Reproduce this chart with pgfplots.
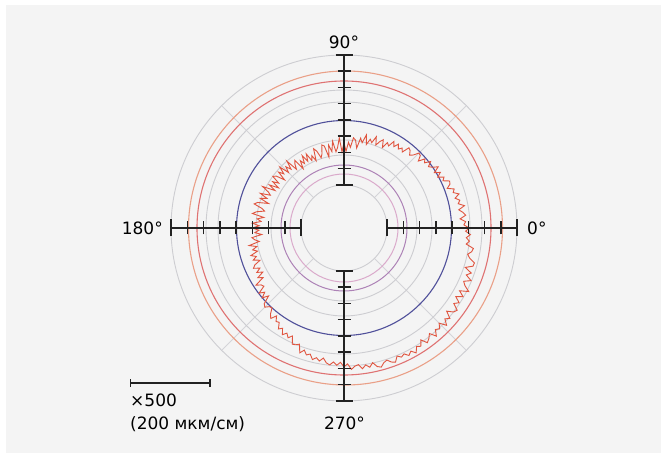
\documentclass[border=0pt]{standalone}
\usepackage{pgfplots}
\pgfplotsset{compat=1.18}
\usepackage{fontspec}
\setmainfont{DejaVu Sans}
\newcommand\lbl{\fontsize{17}{20}\selectfont}
\definecolor{bg}{HTML}{F4F4F4}
\definecolor{gridc}{HTML}{CDCDD1}
\definecolor{radc}{HTML}{D4D4D8}
\definecolor{redc}{HTML}{DF7272}
\definecolor{orc}{HTML}{EAA088}
\definecolor{bluec}{HTML}{50509A}
\definecolor{purc}{HTML}{AD82B6}
\definecolor{pinkc}{HTML}{DAAACB}
\definecolor{tracec}{HTML}{E0553F}
\definecolor{axc}{HTML}{222222}
\begin{document}
\begin{tikzpicture}
\begin{axis}[
  scale only axis, width=667pt, height=458pt,
  xmin=-344, xmax=323, ymin=-230, ymax=228,
  hide axis, clip=false,
]
\fill[white] (axis cs:-344,-230) rectangle (axis cs:323,228);
\fill[bg] (axis cs:-338,-225) rectangle (axis cs:317,223);
% radial grid lines
\draw[radc, line width=0.8pt] (axis cs:30.4,30.4) -- (axis cs:122.3,122.3);
\draw[radc, line width=0.8pt] (axis cs:-30.4,30.4) -- (axis cs:-122.3,122.3);
\draw[radc, line width=0.8pt] (axis cs:-30.4,-30.4) -- (axis cs:-122.3,-122.3);
\draw[radc, line width=0.8pt] (axis cs:30.4,-30.4) -- (axis cs:122.3,-122.3);
% gray circles
\pgfplotsinvokeforeach{43,73,88,126,138,173}{
  \draw[gridc, line width=0.9pt] (axis cs:0,0) circle[radius=#1];
}
\draw[pinkc, line width=1pt] (axis cs:0,0) circle[radius=54];
\draw[purc, line width=1pt] (axis cs:0,0) circle[radius=63];
\draw[bluec, line width=1.1pt] (axis cs:0,0) circle[radius=107.5];
\draw[redc, line width=1.1pt] (axis cs:0,0) circle[radius=147];
\draw[orc, line width=1.1pt] (axis cs:1.5,0) circle[radius=157];
% roundness trace (angle in degrees, radius)
\addplot[tracec, line width=0.9pt, no marks, data cs=polar] coordinates {
(0,125.2) (1.5,119.9) (3,121.8) (4.5,116.5) (6,122.4) (7.5,119.9) (9,116.2) (10.5,122.5) (12,116.8) (13.5,119.1)
(15,115) (16.5,119.9) (18,114.8) (19.5,116.9) (21,110.6) (22.5,114.7) (24,115.6) (25.5,109.7) (27,112.2) (28.5,106.7)
(30,111.2) (31.5,106) (33,112.4) (34.5,107.2) (36,104.4) (37.5,109.2) (39,103.6) (40.5,106.4) (42,100) (43.5,105.2)
(45,106) (46.5,100.6) (48,98) (49.5,101.8) (51,103.2) (52.5,95.8) (54,98.8) (55.5,95.8) (57,100) (58.5,95.4)
(60,100) (61.5,93.4) (63,95.8) (64.5,89.2) (66,96.6) (67.5,93.5) (69,88.9) (70.5,96.8) (72,89.7) (73.5,92.6)
(75,86.5) (76.5,95.6) (78,87.2) (79.5,91.4) (81,80.9) (82.5,88.6) (84,90.7) (85.5,80.9) (87,85.8) (88.5,76.7)
(90,85.4) (91.5,76.2) (93,90.2) (94.5,81) (96,76.6) (97.5,87.4) (99,77.4) (100.5,84.2) (102,72.6) (103.5,84.2)
(105,86) (106.5,77.5) (108,73.9) (109.5,81.5) (111,84.9) (112.5,72.9) (114,79.1) (115.5,74.8) (117,83.1) (118.5,76)
(120,83.6) (121.5,75.6) (123,80.2) (124.5,72.2) (126,83.8) (127.5,80.7) (129,75.5) (130.5,87.8) (132,79.1) (133.5,84.4)
(135,78.5) (136.5,88.5) (138,81) (139.5,86.1) (141,76.5) (142.5,85.1) (144,88.1) (145.5,79.2) (147,85) (148.5,76.8)
(150,86.1) (151.5,78.6) (153,91.4) (154.5,83.9) (156,80.6) (157.5,90.6) (159,82.4) (160.5,88.9) (162,79.3) (163.5,90)
(165,93) (166.5,84.7) (168,81.3) (169.5,89.1) (171,92.7) (172.5,80.9) (174,87.3) (175.5,83.2) (177,91.7) (178.5,84.8)
(180,91.8) (181.5,85.1) (183,89.2) (184.5,82.5) (186,92.6) (187.5,90.1) (189,85.8) (190.5,96.5) (192,89.2) (193.5,93.9)
(195,89.5) (196.5,97.1) (198,92.2) (199.5,96.3) (201,89.9) (202.5,96.5) (204,99.1) (205.5,93.2) (207,97.8) (208.5,92.4)
(210,99.5) (211.5,95) (213,105) (214.5,100.5) (216,99) (217.5,107) (219,102) (220.5,107.5) (222,101.5) (223.5,110)
(225,112) (226.5,108.4) (228,107.6) (229.5,113.2) (231,116.4) (232.5,110.8) (234,115.6) (235.5,114.4) (237,120.4) (238.5,117.6)
(240,123.2) (241.5,119.6) (243,123.2) (244.5,119.6) (246,127.2) (247.5,126.4) (249,124.4) (250.5,132.4) (252,128.4) (253.5,132.4)
(255,130.5) (256.5,135.3) (258,132.6) (259.5,135.3) (261,131.7) (262.5,135.9) (264,137.7) (265.5,134.4) (267,137.4) (268.5,134.4)
(270,138.9) (271.5,135.9) (273,141.6) (274.5,138.6) (276,137.4) (277.5,141.9) (279,138.6) (280.5,141.6) (282,137.7) (283.5,142.5)
(285,144) (286.5,140.4) (288,138.9) (289.5,142.2) (291,143.7) (292.5,138.6) (294,141.3) (295.5,139.5) (297,143.1) (298.5,140.1)
(300,144.2) (301.5,139) (303,141) (304.5,135.8) (306,141.8) (307.5,139.4) (309,135.8) (310.5,142.2) (312,136.6) (313.5,139)
(315,134.5) (316.5,141.4) (318,135.8) (319.5,139.2) (321,132.1) (322.5,138) (324,139.9) (325.5,133.3) (327,137.2) (328.5,131.1)
(330,137.5) (331.5,131.5) (333,140) (334.5,134) (336,131) (337.5,137.5) (339,131) (340.5,135) (342,127.5) (343.5,134.5)
(345,135) (346.5,129.3) (348,126.4) (349.5,129.9) (351,131) (352.5,123.3) (354,126) (355.5,122.7) (357,126.6) (358.5,121.7)
(360,125.2)
};
% axis cross
\draw[axc, line width=1.5pt] (axis cs:43,0) -- (axis cs:173,0);
\draw[axc, line width=1.5pt] (axis cs:-43,0) -- (axis cs:-173,0);
\draw[axc, line width=1.5pt] (axis cs:0,43) -- (axis cs:0,173);
\draw[axc, line width=1.5pt] (axis cs:0,-43) -- (axis cs:0,-173);
\pgfplotsinvokeforeach{59.25,75.5,91.75,108,124.25,140.5,156.75}{
  \draw[axc, line width=1.5pt] (axis cs:#1,-6.5) -- (axis cs:#1,6.5);
  \draw[axc, line width=1.5pt] (axis cs:-#1,-6.5) -- (axis cs:-#1,6.5);
  \draw[axc, line width=1.5pt] (axis cs:-6.5,#1) -- (axis cs:6.5,#1);
  \draw[axc, line width=1.5pt] (axis cs:-6.5,-#1) -- (axis cs:6.5,-#1);
}
\pgfplotsinvokeforeach{43,173}{
  \draw[axc, line width=1.5pt] (axis cs:#1,-8.5) -- (axis cs:#1,8.5);
  \draw[axc, line width=1.5pt] (axis cs:-#1,-8.5) -- (axis cs:-#1,8.5);
  \draw[axc, line width=1.5pt] (axis cs:-8.5,#1) -- (axis cs:8.5,#1);
  \draw[axc, line width=1.5pt] (axis cs:-8.5,-#1) -- (axis cs:8.5,-#1);
}
% labels
\node[anchor=base, inner sep=0pt, font=\lbl] at (axis cs:0,179) {90°};
\node[anchor=base, inner sep=0pt, font=\lbl] at (axis cs:0.5,-202) {270°};
\node[anchor=base east, inner sep=0pt, font=\lbl] at (axis cs:-181,-7) {180°};
\node[anchor=base west, inner sep=0pt, font=\lbl] at (axis cs:183,-7) {0°};
% scale bar
\draw[axc, line width=1.3pt] (axis cs:-213.5,-155) -- (axis cs:-134,-155);
\draw[axc, line width=1.3pt] (axis cs:-213.5,-159) -- (axis cs:-213.5,-151);
\draw[axc, line width=1.3pt] (axis cs:-134,-159) -- (axis cs:-134,-151);
\node[anchor=base west, inner sep=0pt, font=\lbl] at (axis cs:-214,-179) {×500};
\node[anchor=base west, inner sep=0pt, font=\lbl] at (axis cs:-214,-202) {(200 мкм/см)};
\end{axis}
\end{tikzpicture}
\end{document}
